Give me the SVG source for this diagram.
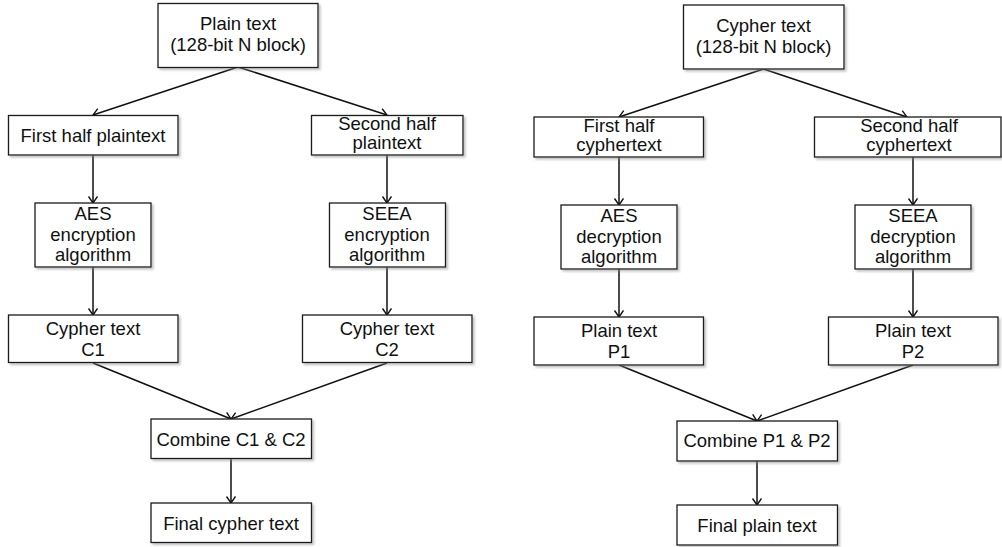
<svg xmlns="http://www.w3.org/2000/svg" width="1002" height="547" viewBox="0 0 1002 547">
  <style>
    .box { fill: #ffffff; stroke: #1a1a1a; stroke-width: 1.3; filter: url(#shadow); }
    .lbl { font-family: "Liberation Sans", Arial, sans-serif; font-size: 18.5px; fill: #111111; text-anchor: middle; }
    .edge { fill: none; stroke: #111111; stroke-width: 1.5; marker-end: url(#arrow); }
  </style>
  <defs>
    <filter id="shadow" x="-10%" y="-10%" width="130%" height="140%">
      <feDropShadow dx="2" dy="2" stdDeviation="1" flood-color="#888888" flood-opacity="0.5"/>
    </filter>
    <marker id="arrow" markerUnits="userSpaceOnUse" markerWidth="12" markerHeight="12" refX="7" refY="5" orient="auto">
      <path d="M0.5,0.5 L7,5 L0.5,9.5" fill="none" stroke="#111111" stroke-width="1.4"/>
    </marker>
  </defs>
  <rect width="1002" height="547" fill="#ffffff"/>

  <!-- Connectors -->
  <g id="connectors">
    <!-- encryption flow -->
    <line class="edge" x1="238" y1="67" x2="93" y2="115"/>
    <line class="edge" x1="238" y1="67" x2="387" y2="115"/>
    <line class="edge" x1="93" y1="155" x2="93" y2="203"/>
    <line class="edge" x1="387" y1="155" x2="387" y2="203"/>
    <line class="edge" x1="93" y1="267" x2="93" y2="315"/>
    <line class="edge" x1="387" y1="267" x2="387" y2="315"/>
    <line class="edge" x1="93" y1="363" x2="231" y2="419"/>
    <line class="edge" x1="387" y1="363" x2="231" y2="419"/>
    <line class="edge" x1="231" y1="459" x2="231" y2="503"/>
    <!-- decryption flow -->
    <line class="edge" x1="763.5" y1="69" x2="619" y2="117"/>
    <line class="edge" x1="763.5" y1="69" x2="907" y2="117"/>
    <line class="edge" x1="619" y1="157" x2="619" y2="205"/>
    <line class="edge" x1="913" y1="157" x2="913" y2="205"/>
    <line class="edge" x1="619" y1="269" x2="619" y2="317"/>
    <line class="edge" x1="913" y1="269" x2="913" y2="317"/>
    <line class="edge" x1="619" y1="365" x2="757" y2="421"/>
    <line class="edge" x1="913" y1="365" x2="757" y2="421"/>
    <line class="edge" x1="757" y1="461" x2="757" y2="505"/>
  </g>

  <!-- Encryption nodes -->
  <g id="enc-input">
    <rect class="box" x="158" y="3.5" width="160" height="64"/>
    <text class="lbl" x="238" y="30">Plain text</text>
    <text class="lbl" x="238" y="51">(128-bit N block)</text>
  </g>
  <g id="enc-first-half">
    <rect class="box" x="8.5" y="115.5" width="169.5" height="39.5"/>
    <text class="lbl" x="93" y="141.5">First half plaintext</text>
  </g>
  <g id="enc-second-half">
    <rect class="box" x="311.5" y="115.5" width="151.5" height="39.5"/>
    <text class="lbl" x="387" y="130">Second half</text>
    <text class="lbl" x="387" y="149">plaintext</text>
  </g>
  <g id="enc-aes">
    <rect class="box" x="35" y="203" width="116" height="64"/>
    <text class="lbl" x="93" y="220">AES</text>
    <text class="lbl" x="93" y="240.5">encryption</text>
    <text class="lbl" x="93" y="261">algorithm</text>
  </g>
  <g id="enc-seea">
    <rect class="box" x="329.5" y="203" width="116" height="64"/>
    <text class="lbl" x="387" y="220">SEEA</text>
    <text class="lbl" x="387" y="240.5">encryption</text>
    <text class="lbl" x="387" y="261">algorithm</text>
  </g>
  <g id="enc-c1">
    <rect class="box" x="8.5" y="315" width="169.5" height="47.5"/>
    <text class="lbl" x="93" y="334.5">Cypher text</text>
    <text class="lbl" x="93" y="356">C1</text>
  </g>
  <g id="enc-c2">
    <rect class="box" x="302.5" y="315" width="169.5" height="47.5"/>
    <text class="lbl" x="387" y="334.5">Cypher text</text>
    <text class="lbl" x="387" y="356">C2</text>
  </g>
  <g id="enc-combine">
    <rect class="box" x="151" y="419" width="160.5" height="39.5"/>
    <text class="lbl" x="231" y="445.5">Combine C1 &amp; C2</text>
  </g>
  <g id="enc-output">
    <rect class="box" x="151" y="503" width="160.5" height="39.5"/>
    <text class="lbl" x="231" y="529.5">Final cypher text</text>
  </g>

  <!-- Decryption nodes -->
  <g id="dec-input">
    <rect class="box" x="683.5" y="5" width="160.5" height="64"/>
    <text class="lbl" x="763.5" y="32">Cypher text</text>
    <text class="lbl" x="763.5" y="53">(128-bit N block)</text>
  </g>
  <g id="dec-first-half">
    <rect class="box" x="534" y="117" width="169.5" height="40"/>
    <text class="lbl" x="619" y="131.5">First half</text>
    <text class="lbl" x="619" y="150.5">cyphertext</text>
  </g>
  <g id="dec-second-half">
    <rect class="box" x="814.5" y="117" width="186.5" height="40"/>
    <text class="lbl" x="909" y="131.5">Second half</text>
    <text class="lbl" x="909" y="150.5">cyphertext</text>
  </g>
  <g id="dec-aes">
    <rect class="box" x="561" y="205" width="116" height="64"/>
    <text class="lbl" x="619" y="221.5">AES</text>
    <text class="lbl" x="619" y="242.5">decryption</text>
    <text class="lbl" x="619" y="263">algorithm</text>
  </g>
  <g id="dec-seea">
    <rect class="box" x="855" y="205" width="116" height="64"/>
    <text class="lbl" x="913" y="221.5">SEEA</text>
    <text class="lbl" x="913" y="242.5">decryption</text>
    <text class="lbl" x="913" y="263">algorithm</text>
  </g>
  <g id="dec-p1">
    <rect class="box" x="534" y="317" width="169.5" height="48"/>
    <text class="lbl" x="619" y="336.5">Plain text</text>
    <text class="lbl" x="619" y="358">P1</text>
  </g>
  <g id="dec-p2">
    <rect class="box" x="828.5" y="317" width="169.5" height="48"/>
    <text class="lbl" x="913" y="336.5">Plain text</text>
    <text class="lbl" x="913" y="358">P2</text>
  </g>
  <g id="dec-combine">
    <rect class="box" x="677" y="421" width="160.5" height="40"/>
    <text class="lbl" x="757" y="447">Combine P1 &amp; P2</text>
  </g>
  <g id="dec-output">
    <rect class="box" x="677" y="505" width="160.5" height="40"/>
    <text class="lbl" x="757" y="531.5">Final plain text</text>
  </g>
</svg>
